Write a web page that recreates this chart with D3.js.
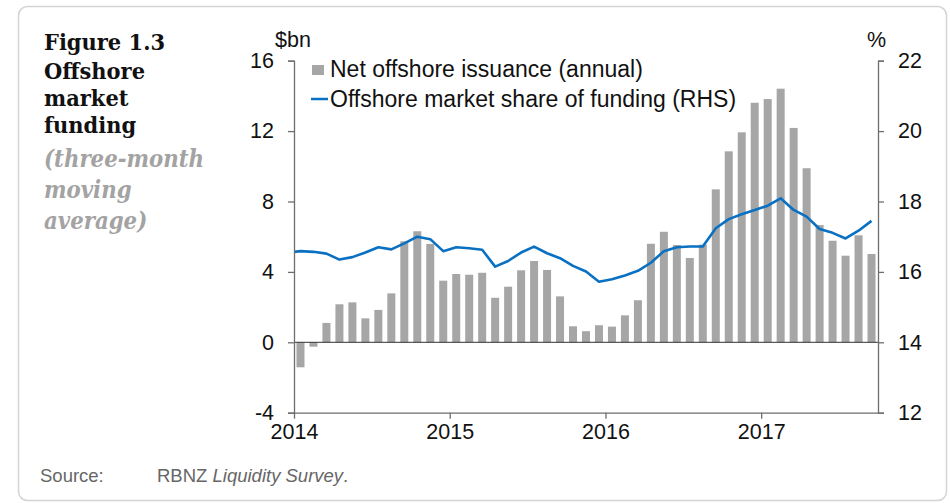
<!DOCTYPE html>
<html><head><meta charset="utf-8">
<script src="https://cdn.jsdelivr.net/npm/d3@7"></script>
<style>
html,body{margin:0;padding:0;background:#fff;}
svg{display:block;}
</style></head>
<body>
<svg id="chart" width="950" height="503"></svg>
<script>
// ---- data ----
const startMonth = new Date(2014, 0, 1);
const issuance = [-1.42,-0.25,1.10,2.16,2.27,1.36,1.84,2.78,5.74,6.31,5.59,3.50,
  3.88,3.84,3.95,2.53,3.16,4.09,4.62,4.11,2.61,0.91,0.63,0.97,
  0.89,1.53,2.39,5.60,6.28,5.53,4.79,5.55,8.69,10.85,11.93,13.61,
  13.82,14.41,12.18,9.89,6.66,5.77,4.92,6.08,5.02];
// offshore market share, Dec 2013 .. Sep 2017
const sharePrev = 16.55;
const share = [16.59,16.57,16.52,16.35,16.42,16.55,16.70,16.64,16.81,17.00,16.93,16.59,
  16.70,16.67,16.63,16.15,16.31,16.55,16.72,16.53,16.39,16.17,16.01,15.72,
  15.79,15.90,16.03,16.26,16.59,16.70,16.72,16.72,17.24,17.50,17.64,17.76,
  17.88,18.09,17.76,17.57,17.22,17.11,16.95,17.17,17.45];
const yearTicks = ["2014","2015","2016","2017"];
const leftTicks = [-4,0,4,8,12,16];
const rightTicks = [12,14,16,18,20,22];
const seriesNames = ["Net offshore issuance (annual)","Offshore market share of funding (RHS)"];

const months = d3.timeMonth.range(startMonth, d3.timeMonth.offset(startMonth, issuance.length));

// ---- layout ----
const svg = d3.select("#chart");
const L = 294, R = 878, T = 60.7, B = 412.7;
const nMonths = 45;
const x = d3.scaleLinear().domain([0, nMonths]).range([L, R]);
const yL = d3.scaleLinear().domain([-4, 16]).range([B, T]);
const yR = d3.scaleLinear().domain([12, 22]).range([B, T]);

const barColor = "#a6a6a6", lineColor = "#0a70c2", axisColor = "#6e6e6e";
const sans = "'Liberation Sans', Arial, sans-serif";
const serif = "'DejaVu Serif', serif";
const fs = 21.5;

// frame
svg.append("rect").attr("x",18.5).attr("y",6.5).attr("width",928).attr("height",494)
  .attr("rx",9).attr("fill","none").attr("stroke","#d4d4d4").attr("stroke-width",1.5);

// title block
const title = svg.append("g").attr("font-family", serif);
[["Figure 1.3",50],["Offshore",79],["market",106],["funding",133]].forEach(([t,y])=>{
  title.append("text").attr("transform",`translate(44,${y}) scale(1,1.1)`).attr("font-size",21).attr("font-weight","bold")
    .attr("fill","#111").text(t);
});
[["(three-month",167],["moving",198],["average)",229]].forEach(([t,y])=>{
  title.append("text").attr("transform",`translate(44,${y}) scale(1,1.1)`).attr("font-size",21.3).attr("font-weight","bold")
    .attr("font-style","italic").attr("fill","#a3a3a3").text(t);
});

// clip
svg.append("clipPath").attr("id","plotclip").append("rect")
  .attr("x",L).attr("y",T-5).attr("width",R-L).attr("height",B-T+10);

// bars
const bw = 8;
svg.append("g").selectAll("rect").data(issuance).join("rect")
  .attr("x",(d,i)=>x(i+0.5)-bw/2)
  .attr("width",bw)
  .attr("y",d=>Math.min(yL(d),yL(0)))
  .attr("height",d=>Math.abs(yL(d)-yL(0)))
  .attr("fill",barColor);

// zero line
svg.append("line").attr("x1",L).attr("x2",R).attr("y1",yL(0)).attr("y2",yL(0))
  .attr("stroke","#333").attr("stroke-width",1);

// line
const linePts = [sharePrev].concat(share);
const line = d3.line().x((d,i)=>x(i-0.5)).y(d=>yR(d));
svg.append("path").datum(linePts).attr("d",line).attr("clip-path","url(#plotclip)")
  .attr("fill","none").attr("stroke",lineColor).attr("stroke-width",2.6).attr("stroke-linejoin","round");

// axes
function styleAxis(g){
  g.selectAll("path,line").attr("stroke",axisColor).attr("stroke-width",1.3);
  g.selectAll("text").attr("font-family",sans).attr("font-size",fs).attr("fill","#111");
}
const axL = d3.axisLeft(yL).tickValues(leftTicks).tickSize(6).tickSizeOuter(6).tickPadding(14).tickFormat(d=>String(d));
svg.append("g").attr("transform",`translate(${L},0)`).call(axL).call(styleAxis);
const axR = d3.axisRight(yR).tickValues(rightTicks).tickSize(6).tickSizeOuter(6).tickPadding(14).tickFormat(d=>String(d));
svg.append("g").attr("transform",`translate(${R},0)`).call(axR).call(styleAxis);
const axB = d3.axisBottom(x).tickValues(yearTicks.map((d,i)=>i*12)).tickSize(6).tickSizeOuter(0)
  .tickPadding(5).tickFormat((d,i)=>yearTicks[i]);
svg.append("g").attr("transform",`translate(0,${B})`).call(axB).call(styleAxis);

// unit labels
svg.append("text").attr("x",275).attr("y",47).attr("font-family",sans).attr("font-size",fs).attr("fill","#111").text("$bn");
svg.append("text").attr("x",867).attr("y",47).attr("font-family",sans).attr("font-size",fs).attr("fill","#111").text("%");

// legend
const lg = svg.append("g").attr("font-family",sans).attr("font-size",23).attr("fill","#111");
lg.append("rect").attr("x",312).attr("y",65).attr("width",12).attr("height",10).attr("fill",barColor);
lg.append("text").attr("x",330).attr("y",77).text(seriesNames[0]);
lg.append("line").attr("x1",311).attr("x2",328).attr("y1",99).attr("y2",99).attr("stroke",lineColor).attr("stroke-width",2.5);
lg.append("text").attr("x",330).attr("y",107).text(seriesNames[1]);

// source
const sfs = 18.5;
svg.append("text").attr("x",40).attr("y",482).attr("font-family",sans).attr("font-size",sfs).attr("fill","#666").text("Source:");
const src = svg.append("text").attr("x",157).attr("y",482).attr("font-family",sans).attr("font-size",sfs).attr("fill","#666");
src.append("tspan").text("RBNZ ");
src.append("tspan").attr("font-style","italic").text("Liquidity Survey");
src.append("tspan").text(".");
</script>
</body></html>
